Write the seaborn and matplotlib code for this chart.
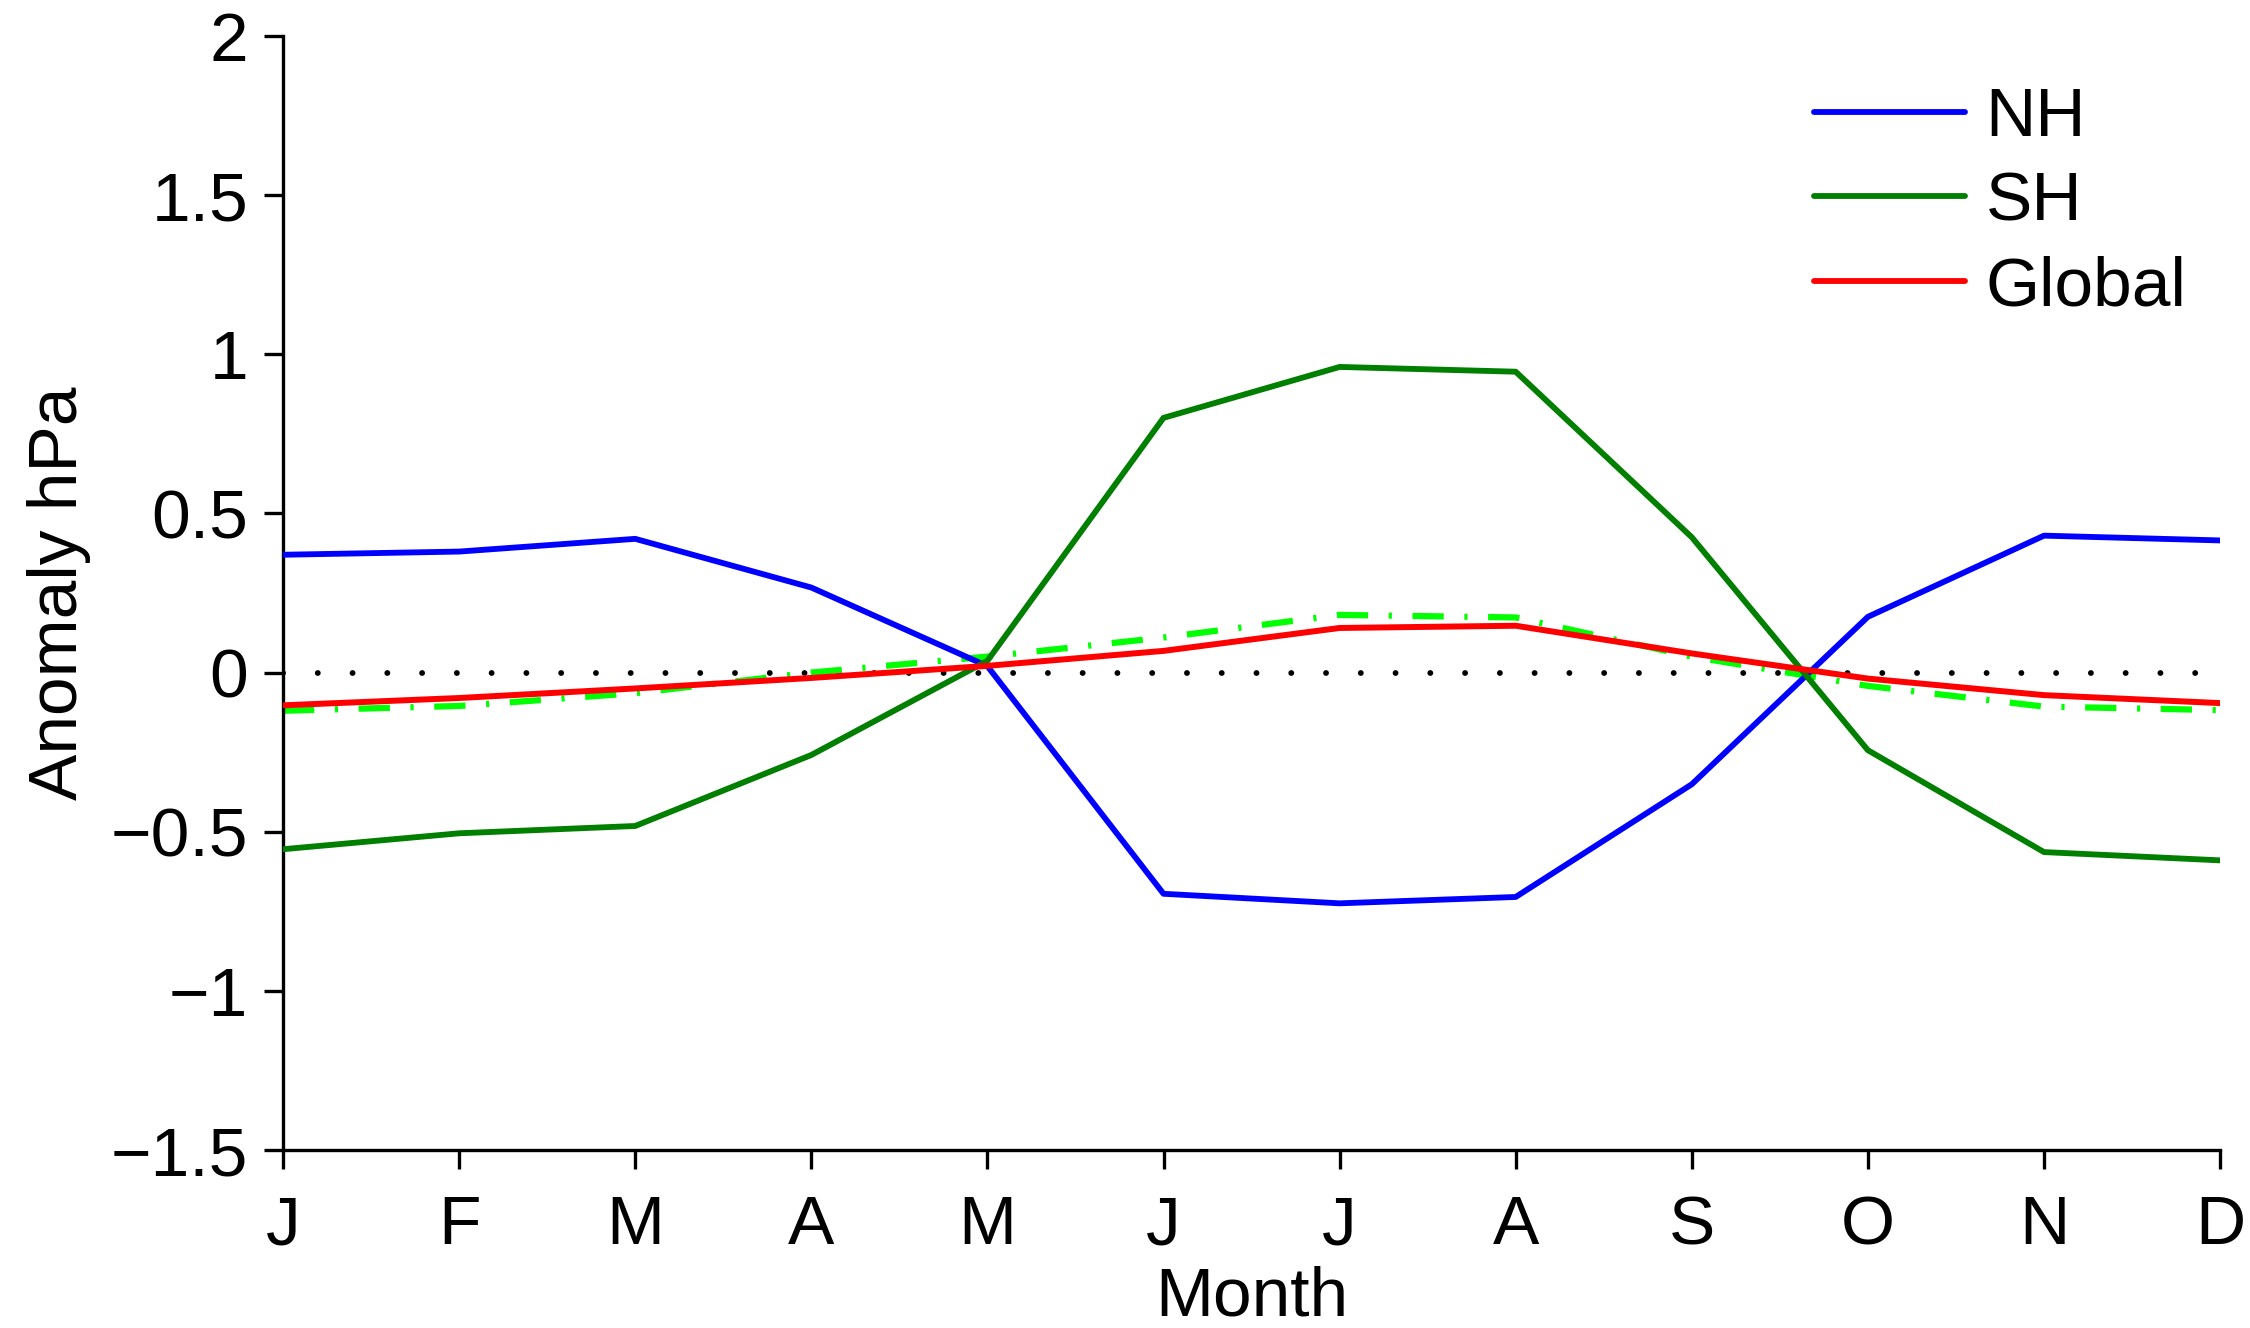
import numpy as np
import pandas as pd
import matplotlib
matplotlib.use("Agg")
import matplotlib.pyplot as plt
import seaborn as sns

months = ["J", "F", "M", "A", "M", "J", "J", "A", "S", "O", "N", "D"]
nh = [0.37, 0.38, 0.42, 0.267, 0.02, -0.695, -0.725, -0.705, -0.351, 0.175, 0.43, 0.415]
sh = [-0.555, -0.505, -0.482, -0.259, 0.037, 0.80, 0.96, 0.945, 0.425, -0.244, -0.564, -0.59]
glob = [-0.103, -0.08, -0.05, -0.017, 0.021, 0.068, 0.14, 0.147, 0.06, -0.019, -0.071, -0.096]
glob_alt = [-0.12, -0.105, -0.065, 0.0, 0.05, 0.11, 0.181, 0.173, 0.05, -0.042, -0.107, -0.118]

sns.set_theme(style="ticks")
plt.rcParams["font.family"] = ["Liberation Sans", "DejaVu Sans"]
plt.rcParams["text.color"] = "black"
plt.rcParams["axes.labelcolor"] = "black"

x = np.arange(len(months))
df = pd.DataFrame({"x": x, "NH": nh, "SH": sh, "Global": glob, "alt": glob_alt})

fig = plt.figure(figsize=(22.5, 13.28), dpi=100)
ax = fig.add_axes([0.1258, 0.134, 0.8609, 0.839])

# zero reference line
ax.plot([x[0], x[-1]], [0, 0], color="black", lw=4.2, linestyle=(0, (0.01, 5.95)),
        dash_capstyle="round", zorder=1)

sns.lineplot(data=df, x="x", y="alt", ax=ax, color="#00ff00", lw=4.5,
             linestyle=(0, (5, 3.3, 0.5, 3.3)), zorder=2)
sns.lineplot(data=df, x="x", y="NH", ax=ax, color="#0000ff", lw=4.2, label="NH", zorder=3)
sns.lineplot(data=df, x="x", y="SH", ax=ax, color="#007f00", lw=4.2, label="SH", zorder=3)
sns.lineplot(data=df, x="x", y="Global", ax=ax, color="#ff0000", lw=4.3, label="Global", zorder=4)

ax.set_xlim(x[0], x[-1])
ax.set_ylim(-1.5, 2)
ax.set_xticks(x)
ax.set_xticklabels(months)
ax.set_yticks([-1.5, -1, -0.5, 0, 0.5, 1, 1.5, 2])
ax.set_yticklabels(["\u22121.5", "\u22121", "\u22120.5", "0", "0.5", "1", "1.5", "2"])

for s in ["top", "right"]:
    ax.spines[s].set_visible(False)
for s in ["left", "bottom"]:
    ax.spines[s].set_linewidth(2.4)
    ax.spines[s].set_color("black")

ax.tick_params(axis="both", direction="out", length=14, width=2.4, colors="black",
               labelsize=50)
ax.tick_params(axis="y", pad=11)
ax.tick_params(axis="x", pad=18)

ax.set_xlabel("Month", fontsize=50, labelpad=5)
ax.set_ylabel("Anomaly hPa", fontsize=50, labelpad=14)

leg = ax.legend(loc="upper right", frameon=False, fontsize=50, handlelength=2.17,
                handletextpad=0.3, labelspacing=0.3, borderaxespad=0.0,
                bbox_to_anchor=(0.997, 0.98))
for line in leg.get_lines():
    line.set_linewidth(4.2)

fig.savefig("out.png", dpi=100, facecolor="white")
